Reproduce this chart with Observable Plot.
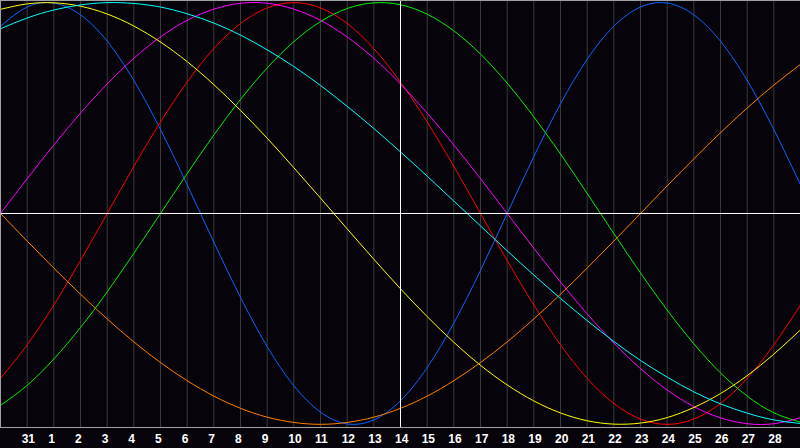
<!DOCTYPE html>
<html>
<head>
<meta charset="utf-8">
<script src="https://cdn.jsdelivr.net/npm/d3@7"></script>
<script src="https://cdn.jsdelivr.net/npm/@observablehq/plot@0.6"></script>
<style>
  html, body { margin: 0; padding: 0; background: #06040a; }
</style>
</head>
<body>
<div id="chart"></div>
<script>
// Day slots across the chart (grid positions 0..30) and their labels (positions 1..29)
const dayIndex = [0,1,2,3,4,5,6,7,8,9,10,11,12,13,14,15,16,17,18,19,20,21,22,23,24,25,26,27,28,29,30];
const tickIndex = [1,2,3,4,5,6,7,8,9,10,11,12,13,14,15,16,17,18,19,20,21,22,23,24,25,26,27,28,29];
const tickLabels = ["31","1","2","3","4","5","6","7","8","9","10","11","12","13","14","15","16","17","18","19","20","21","22","23","24","25","26","27","28"];
const todayIndex = 15;

// Cycle names and colours
const seriesNames = ["physical", "emotional", "intellectual", "intuitive", "aesthetic", "awareness", "spiritual"];
const seriesColors = ["#0a64ff", "#ff0000", "#00f000", "#ff00ff", "#ffff00", "#ff8000", "#00ffff"];

// Values per day slot (-1..1)
const physical = [0.888,0.979,0.998,0.942,0.817,0.631,0.398,0.136,-0.136,-0.398,-0.631,-0.817,-0.942,-0.998,-0.979,-0.888,-0.731,-0.520,-0.270,0,0.270,0.520,0.731,0.888,0.979,0.998,0.942,0.817,0.631,0.398,0.136];
const emotional = [-0.782,-0.623,-0.434,-0.223,0,0.223,0.434,0.623,0.782,0.901,0.975,1,0.975,0.901,0.782,0.623,0.434,0.223,0,-0.223,-0.434,-0.623,-0.782,-0.901,-0.975,-1,-0.975,-0.901,-0.782,-0.623,-0.434];
const intellectual = [-0.910,-0.815,-0.690,-0.541,-0.372,-0.189,0,0.189,0.372,0.541,0.690,0.815,0.910,0.972,0.999,0.990,0.945,0.866,0.756,0.618,0.458,0.282,0.095,-0.095,-0.282,-0.458,-0.618,-0.756,-0.866,-0.945,-0.990];
const intuitive = [0,0.165,0.325,0.476,0.614,0.736,0.837,0.916,0.969,0.997,0.997,0.969,0.916,0.837,0.736,0.614,0.476,0.325,0.165,0,-0.165,-0.325,-0.476,-0.614,-0.736,-0.837,-0.916,-0.969,-0.997,-0.997,-0.969];
const aesthetic = [0.968,0.994,0.999,0.983,0.946,0.889,0.813,0.720,0.611,0.489,0.357,0.217,0.073,-0.073,-0.217,-0.357,-0.489,-0.611,-0.720,-0.813,-0.889,-0.946,-0.983,-0.999,-0.994,-0.968,-0.920,-0.854,-0.769,-0.667,-0.552];
const awareness = [0,-0.131,-0.259,-0.383,-0.5,-0.609,-0.707,-0.793,-0.866,-0.924,-0.966,-0.991,-1,-0.991,-0.966,-0.924,-0.866,-0.793,-0.707,-0.609,-0.5,-0.383,-0.259,-0.131,0,0.131,0.259,0.383,0.5,0.609,0.707];
const spiritual = [0.876,0.927,0.965,0.989,1.000,0.996,0.979,0.947,0.903,0.846,0.776,0.697,0.607,0.508,0.403,0.292,0.177,0.059,-0.059,-0.177,-0.292,-0.403,-0.508,-0.607,-0.697,-0.776,-0.846,-0.903,-0.947,-0.979,-0.996];

const seriesValues = [physical, emotional, intellectual, intuitive, aesthetic, awareness, spiritual];
const rows = [];
seriesNames.forEach((name, s) => {
  seriesValues[s].forEach((v, i) => rows.push({series: name, day: dayIndex[i], value: v}));
});

const chart = Plot.plot({
  width: 800,
  height: 448,
  marginTop: 0,
  marginBottom: 21,
  marginLeft: 0,
  marginRight: 0,
  style: {
    background: "#06040a",
    color: "#ffffff",
    fontFamily: "'Liberation Sans', Arial, sans-serif",
    fontSize: "12px",
    fontWeight: "bold"
  },
  x: {domain: [0, 30], axis: null},
  y: {domain: [-1.015, 1.01], axis: null},
  color: {domain: seriesNames, range: seriesColors},
  marks: [
    Plot.gridX(dayIndex, {stroke: "#3a3a3a", strokeOpacity: 1}),
    Plot.line(rows, {x: "day", y: "value", z: "series", stroke: "series", strokeWidth: 1, curve: "natural"}),
    Plot.ruleY([0], {stroke: "#ffffff", strokeWidth: 1}),
    Plot.ruleX([todayIndex], {stroke: "#ffffff", strokeWidth: 1}),
    Plot.frame({stroke: "#a0a0a0"}),
    Plot.axisX(tickIndex, {
      anchor: "bottom",
      label: null,
      tickSize: 0,
      tickPadding: 7,
      textAnchor: "start",
      dx: -5.5,
      fill: "#ffffff",
      tickFormat: (d) => tickLabels[tickIndex.indexOf(d)]
    })
  ]
});
document.getElementById("chart").appendChild(chart);
</script>
</body>
</html>
